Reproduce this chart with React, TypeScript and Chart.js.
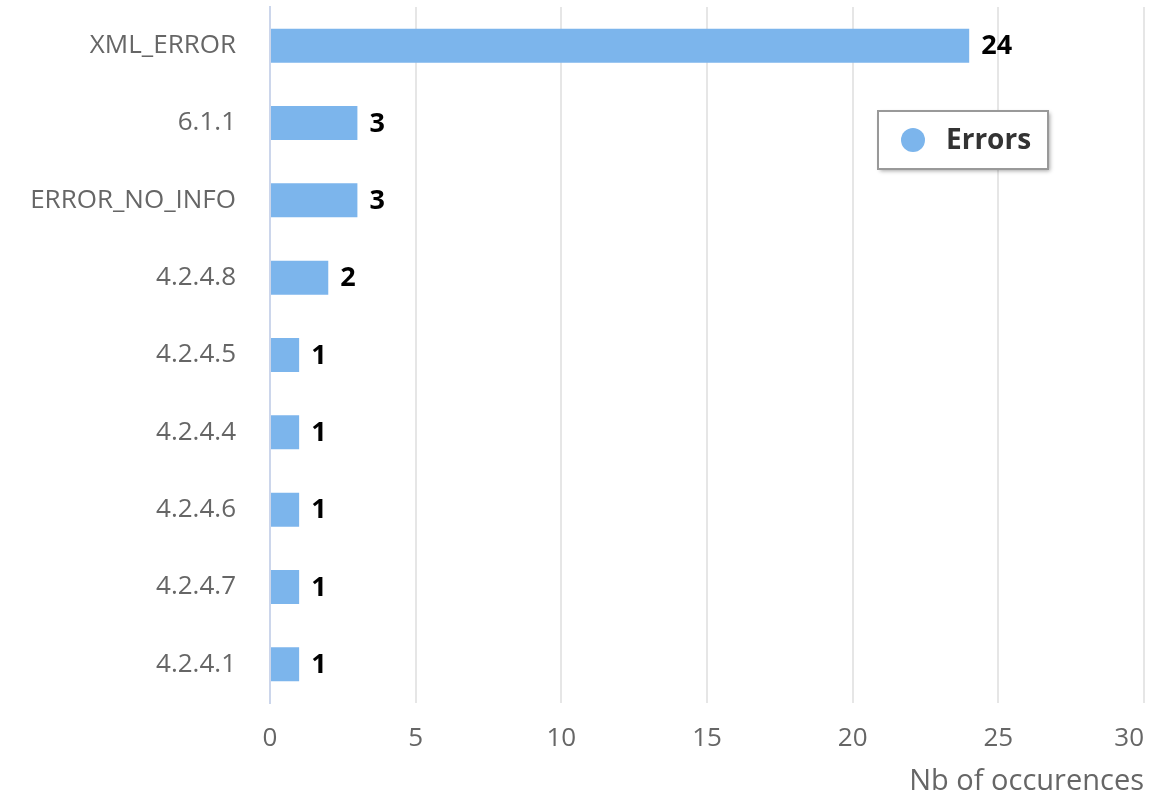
import React, { useEffect, useRef } from 'react';
import { Chart, registerables } from 'chart.js';

Chart.register(...registerables);

const categories = ['XML_ERROR', '6.1.1', 'ERROR_NO_INFO', '4.2.4.8', '4.2.4.5', '4.2.4.4', '4.2.4.6', '4.2.4.7', '4.2.4.1'];
const errorCounts = [24, 3, 3, 2, 1, 1, 1, 1, 1];
const seriesName = 'Errors';
const axisTitle = 'Nb of occurences';
const valueMin = 0;
const valueMax = 30;
const valueStep = 5;

const FONT = '"Open Sans", "DejaVu Sans", sans-serif';
const BAR_COLOR = '#7cb5ec';

// Keep the last value-axis label inside the plot, like the original
const justifyLastTickPlugin = {
  id: 'justifyLastTick',
  beforeDraw(chart: any) {
    const s = chart.scales.x;
    if (!s || !s.getLabelItems) return;
    const items = s.getLabelItems();
    const last = items[items.length - 1];
    if (last && last.options) {
      last.options.textAlign = 'right';
      last.options.translation = [s.right, last.options.translation[1]];
    }
  },
};

const valueLabelsPlugin = {
  id: 'valueLabels',
  afterDatasetsDraw(chart: any) {
    const ctx = chart.ctx;
    const meta = chart.getDatasetMeta(0);
    const data = chart.data.datasets[0].data;
    ctx.save();
    ctx.font = `bold 27px ${FONT}`;
    ctx.fillStyle = '#000000';
    ctx.textAlign = 'left';
    ctx.textBaseline = 'middle';
    meta.data.forEach((el: any, i: number) => {
      ctx.fillText(String(data[i]), el.x + 12, el.y + 1);
    });
    ctx.restore();
  },
};

const floatingLegendPlugin = {
  id: 'floatingLegend',
  afterDraw(chart: any) {
    const ctx = chart.ctx;
    const area = chart.chartArea;
    const ds = chart.data.datasets[0];
    const w = 170;
    const h = 58;
    const x = area.right - 96 - w;
    const y = area.top + 104;
    ctx.save();
    ctx.shadowColor = 'rgba(0,0,0,0.35)';
    ctx.shadowBlur = 4;
    ctx.shadowOffsetX = 2;
    ctx.shadowOffsetY = 2;
    ctx.fillStyle = '#ffffff';
    ctx.fillRect(x, y, w, h);
    ctx.shadowColor = 'transparent';
    ctx.lineWidth = 2;
    ctx.strokeStyle = '#999999';
    ctx.strokeRect(x, y, w, h);
    ctx.beginPath();
    ctx.arc(x + 35, y + h / 2, 12, 0, Math.PI * 2);
    ctx.fillStyle = ds.backgroundColor;
    ctx.fill();
    ctx.font = `bold 28px ${FONT}`;
    ctx.fillStyle = '#333333';
    ctx.textAlign = 'left';
    ctx.textBaseline = 'middle';
    ctx.fillText(ds.label, x + 68, y + h / 2 + 1);
    ctx.restore();
  },
};

export default function App() {
  const canvasRef = useRef<HTMLCanvasElement>(null);

  useEffect(() => {
    document.body.style.margin = '0';
    const canvas = canvasRef.current;
    if (!canvas) return;
    const chart = new Chart(canvas, {
      type: 'bar',
      data: {
        labels: categories,
        datasets: [
          {
            label: seriesName,
            data: errorCounts,
            backgroundColor: BAR_COLOR,
            borderWidth: 0,
            barPercentage: 0.44,
            categoryPercentage: 1,
          },
        ],
      },
      options: {
        indexAxis: 'y',
        responsive: false,
        animation: false,
        devicePixelRatio: 1,
        layout: { padding: { top: 7, right: 26, left: 0, bottom: 0 } },
        plugins: {
          legend: { display: false },
          tooltip: { enabled: false },
        },
        scales: {
          x: {
            type: 'linear',
            min: valueMin,
            max: valueMax,
            ticks: {
              stepSize: valueStep,
              padding: 20,
              color: '#666666',
              font: { family: FONT, size: 26 },
            },
            grid: { color: '#e6e6e6', lineWidth: 2, drawTicks: false },
            border: { display: false },
            title: {
              display: true,
              text: axisTitle,
              align: 'end',
              color: '#666666',
              font: { family: FONT, size: 29 },
              padding: { top: 0, bottom: 0 },
            },
            afterFit(scale: any) {
              scale.height = 96;
              scale.paddingLeft = 0;
              scale.paddingRight = 0;
              scale.paddingTop = 0;
              scale.paddingBottom = 0;
            },
          },
          y: {
            ticks: {
              padding: 34,
              color: '#666666',
              font: { family: FONT, size: 26 },
            },
            grid: { display: false, drawTicks: false },
            border: { display: true, color: '#ccd6eb', width: 2 },
            afterFit(scale: any) {
              scale.width = 270;
              scale.paddingLeft = 0;
              scale.paddingRight = 0;
              scale.paddingTop = 0;
              scale.paddingBottom = 0;
            },
          },
        },
      },
      plugins: [justifyLastTickPlugin, valueLabelsPlugin, floatingLegendPlugin],
    });
    return () => chart.destroy();
  }, []);

  return (
    <div style={{ position: 'absolute', left: 0, top: 0, width: 1170, height: 799, background: '#ffffff' }}>
      <canvas ref={canvasRef} width={1170} height={799} />
    </div>
  );
}
